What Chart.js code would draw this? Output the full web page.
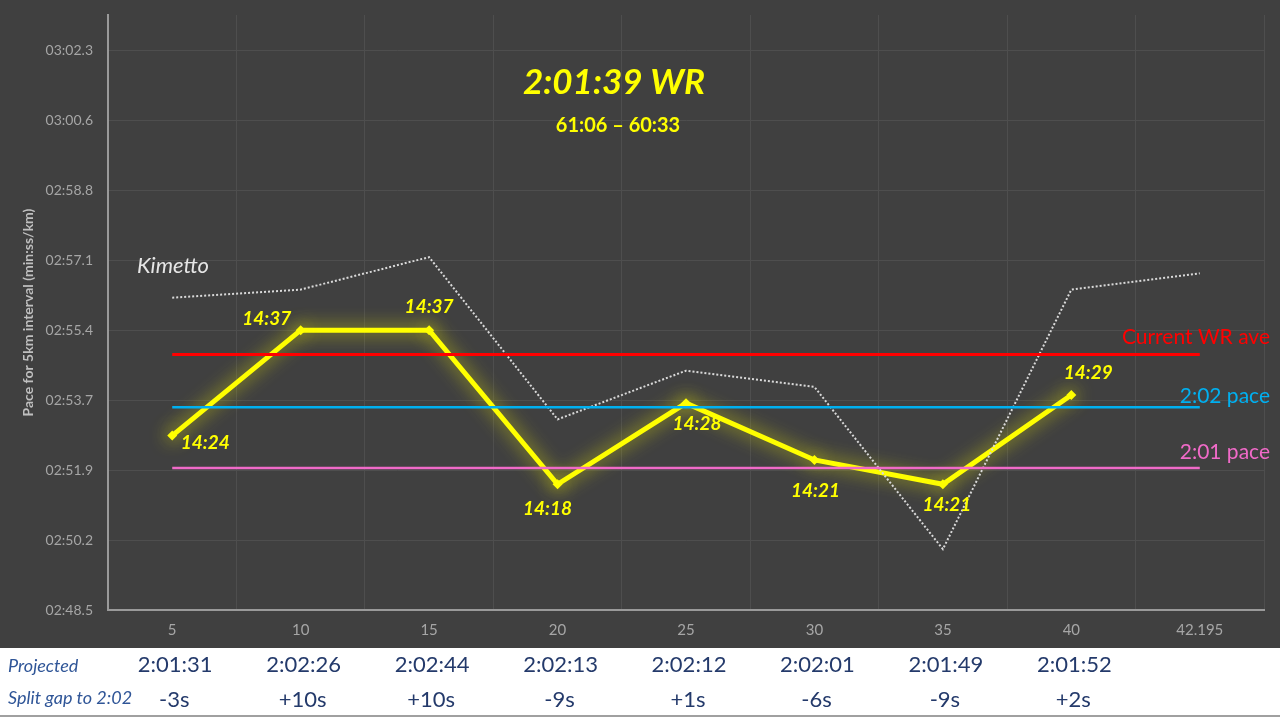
<!DOCTYPE html>
<html>
<head>
<meta charset="utf-8">
<script src="https://cdn.jsdelivr.net/npm/chart.js@4.4.1/dist/chart.umd.min.js"></script>
<style>
  html, body { margin: 0; padding: 0; background: #404040; }
  #wrap { width: 1280px; height: 718px; }
</style>
</head>
<body>
<div id="wrap"><canvas id="chart" width="1280" height="718"></canvas></div>
<script>
// km marks
const distances = ['5', '10', '15', '20', '25', '30', '35', '40', '42.195'];

// pace per km (seconds) for each 5km split, 2:01:39 run
const wrPace = [172.8, 175.4, 175.4, 171.6, 173.6, 172.2, 171.6, 173.8, null];
const wrSplitLabels = ['14:24', '14:37', '14:37', '14:18', '14:28', '14:21', '14:21', '14:29'];

// Kimetto 2:02:57
const kimettoPace = [176.2, 176.4, 177.2, 173.2, 174.4, 174.0, 170.0, 176.4, 176.8];

// reference paces
const currentWrAve = [174.8, 174.8, 174.8, 174.8, 174.8, 174.8, 174.8, 174.8, 174.8];
const pace202 = [173.5, 173.5, 173.5, 173.5, 173.5, 173.5, 173.5, 173.5, 173.5];
const pace201 = [172.0, 172.0, 172.0, 172.0, 172.0, 172.0, 172.0, 172.0, 172.0];

// table under the chart
const projected = ['2:01:31', '2:02:26', '2:02:44', '2:02:13', '2:02:12', '2:02:01', '2:01:49', '2:01:52', ''];
const splitGap = ['-3s', '+10s', '+10s', '-9s', '+1s', '-6s', '-9s', '+2s', ''];

// y axis ticks
const yTickValues = [168.5, 170.225, 171.95, 173.675, 175.4, 177.125, 178.85, 180.575, 182.3];
const yTickLabels = ['02:48.5', '02:50.2', '02:51.9', '02:53.7', '02:55.4', '02:57.1', '02:58.8', '03:00.6', '03:02.3'];

const FONT = 'Lato, "Open Sans", sans-serif';

// Hintergrund + weisses Tabellenband
const backgroundPlugin = {
    id: 'background',
    beforeDraw(chart) {
        const ctx = chart.ctx;
        ctx.save();
        ctx.fillStyle = '#404040';
        ctx.fillRect(0, 0, chart.width, chart.height);
        ctx.fillStyle = '#ffffff';
        ctx.fillRect(0, 648, chart.width, 70);
        ctx.fillStyle = '#a0a0a0';
        ctx.fillRect(0, 715, chart.width, 2);
        ctx.restore();
    }
};

// Leuchteffekt fuer die gelbe Linie
const glowPlugin = {
    id: 'glow',
    beforeDatasetDraw(chart, args) {
        if (args.index !== 0) return;
        const ctx = chart.ctx;
        ctx.save();
        ctx.shadowColor = 'rgba(235,235,0,0.9)';
        ctx.shadowBlur = 18;
    },
    afterDatasetDraw(chart, args) {
        if (args.index !== 0) return;
        chart.ctx.restore();
    }
};

const labelOffsets = [[33, 7], [-34, -11], [0, -23], [-10, 25], [11, 21], [1, 31], [4, 21], [17, -22]];

const textPlugin = {
    id: 'texts',
    afterDraw(chart) {
        const ctx = chart.ctx;
        const x = chart.scales.x;
        const y = chart.scales.y;
        ctx.save();
        ctx.textBaseline = 'middle';

        // Titel
        ctx.textAlign = 'center';
        ctx.fillStyle = '#ffff00';
        ctx.font = 'italic bold 35px ' + FONT;
        ctx.fillText('2:01:39 WR', 614, 83);
        ctx.font = 'bold 20px ' + FONT;
        ctx.fillText('61:06 \u2013 60:33', 618, 126);

        // Kimetto
        ctx.textAlign = 'left';
        ctx.fillStyle = '#e6e6e6';
        ctx.font = 'italic 22px ' + FONT;
        ctx.fillText('Kimetto', 137, 266);

        // Beschriftung der Referenzlinien
        ctx.textAlign = 'right';
        ctx.font = '21px ' + FONT;
        ctx.fillStyle = '#ff0000';
        ctx.fillText('Current WR ave', 1270, 337);
        ctx.fillStyle = '#00b0f0';
        ctx.fillText('2:02 pace', 1270, 396);
        ctx.fillStyle = '#f06ac8';
        ctx.fillText('2:01 pace', 1270, 452);

        // Split-Zeiten an den Punkten
        ctx.textAlign = 'center';
        ctx.fillStyle = '#ffff00';
        ctx.font = 'italic bold 19px ' + FONT;
        wrSplitLabels.forEach(function (lbl, i) {
            const px = x.getPixelForValue(i);
            const py = y.getPixelForValue(wrPace[i]);
            ctx.fillText(lbl, px + labelOffsets[i][0], py + labelOffsets[i][1]);
        });

        // Tabelle unten
        ctx.textAlign = 'left';
        ctx.fillStyle = '#2f5597';
        ctx.font = 'italic 18px ' + FONT;
        ctx.fillText('Projected', 8, 666);
        ctx.fillText('Split gap to 2:02', 8, 698);

        ctx.textAlign = 'center';
        ctx.fillStyle = '#243a6b';
        ctx.font = '22px ' + FONT;
        distances.forEach(function (d, i) {
            const px = x.getPixelForValue(i);
            ctx.fillText(projected[i], px + 3, 665);
            ctx.fillText(splitGap[i], px + 2, 700);
        });
        ctx.restore();
    }
};

const data = {
    labels: distances,
    datasets: [{
        label: '2:01:39 WR',
        data: wrPace,
        borderColor: '#ffff00',
        backgroundColor: '#ffff00',
        borderWidth: 5,
        pointStyle: 'rectRot',
        pointRadius: 5,
        pointBorderWidth: 0,
        order: 5
    }, {
        label: 'Kimetto',
        data: kimettoPace,
        borderColor: '#d9d9d9',
        borderWidth: 2,
        borderDash: [2, 2],
        pointRadius: 0,
        order: 4
    }, {
        label: 'Current WR ave',
        data: currentWrAve,
        borderColor: '#ff0000',
        borderWidth: 3,
        pointRadius: 0,
        order: 1
    }, {
        label: '2:02 pace',
        data: pace202,
        borderColor: '#00b0f0',
        borderWidth: 2.5,
        pointRadius: 0,
        order: 2
    }, {
        label: '2:01 pace',
        data: pace201,
        borderColor: '#f06ac8',
        borderWidth: 2.5,
        pointRadius: 0,
        order: 3
    }]
};

const config = {
    type: 'line',
    data: data,
    options: {
        responsive: false,
        animation: false,
        layout: { padding: { top: 15, right: 16, left: 0, bottom: 0 } },
        plugins: {
            legend: { display: false },
            tooltip: { enabled: false }
        },
        scales: {
            x: {
                offset: true,
                grid: { offset: true, color: '#4e4e4e', drawTicks: false },
                border: { color: '#9a9a9a', width: 2 },
                ticks: { color: '#a6a6a6', font: { family: FONT, size: 15 }, padding: 11 },
                afterFit: function (scale) { scale.height = 108; }
            },
            y: {
                min: 168.5,
                max: 183.17,
                grid: { color: '#4e4e4e', drawTicks: false },
                border: { color: '#9a9a9a', width: 2 },
                afterBuildTicks: function (scale) {
                    scale.ticks = yTickValues.map(function (v) { return { value: v }; });
                },
                ticks: {
                    color: '#a6a6a6',
                    font: { family: FONT, size: 14 },
                    padding: 15,
                    callback: function (value, index) { return yTickLabels[index]; }
                },
                title: {
                    display: true,
                    text: 'Pace for 5km interval (min:ss/km)',
                    color: '#bfbfbf',
                    font: { family: FONT, size: 14, weight: 'bold' },
                    padding: { top: 20, bottom: 0 }
                },
                afterFit: function (scale) {
                    scale.width = 108;
                    scale.paddingTop = 0;
                    scale.paddingBottom = 0;
                }
            }
        }
    },
    plugins: [backgroundPlugin, glowPlugin, textPlugin]
};

new Chart(document.getElementById('chart'), config);
</script>
</body>
</html>
